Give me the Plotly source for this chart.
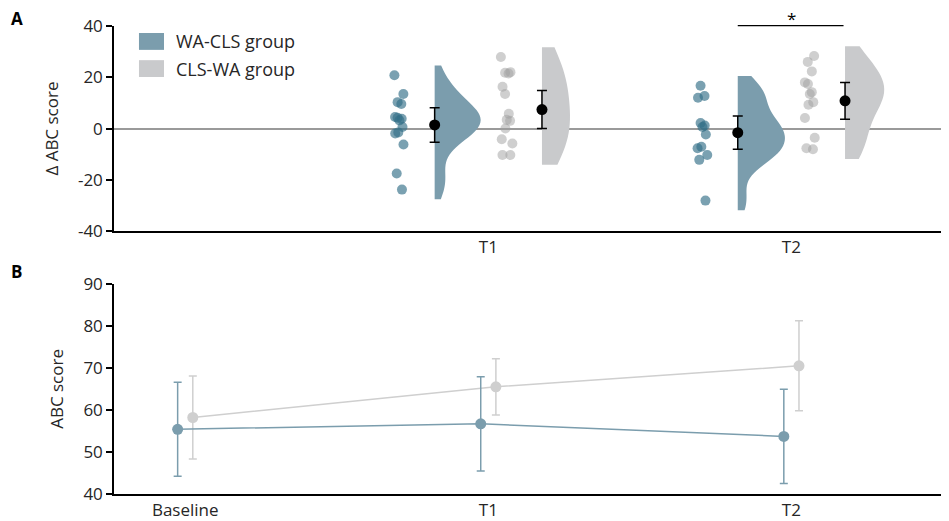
import plotly.graph_objects as go
from plotly.subplots import make_subplots

# ---------------- data ----------------
top_categories = ["T1", "T2"]
wa_cls_delta_t1 = [20.8, 13.5, 10.3, 9.6, 4.5, 4.2, 3.8, 3.2, 0.6, -1.5, -1.9, -6.2, -17.5, -23.8]
wa_cls_delta_t2 = [16.7, 12.7, 12.0, 2.2, 1.2, 0.6, -2.3, -7.1, -7.7, -10.3, -12.2, -28.1]
cls_wa_delta_t1 = [27.9, 22.0, 21.8, 21.5, 16.3, 13.5, 5.8, 3.4, 3.0, 0.0, -4.2, -5.8, -10.3, -10.3]
cls_wa_delta_t2 = [28.3, 26.0, 22.3, 18.0, 17.4, 14.2, 13.5, 10.3, 9.3, 4.1, -3.6, -7.7, -8.1]
wa_cls_delta_mean = [1.4, -1.6]
wa_cls_delta_err = [6.7, 6.5]
cls_wa_delta_mean = [7.4, 10.8]
cls_wa_delta_err = [7.4, 7.2]
delta_tick_vals = [-40, -20, 0, 20, 40]
delta_tick_text = ["-40", "-20", "0", "20", "40"]

timepoints = ["Baseline", "T1", "T2"]
wa_cls_abc = [55.4, 56.7, 53.7]
wa_cls_abc_err = [11.2, 11.2, 11.2]
cls_wa_abc = [58.2, 65.5, 70.5]
cls_wa_abc_err = [9.9, 6.7, 10.7]
abc_tick_vals = [40, 50, 60, 70, 80, 90]

# ---------------- style ----------------
BLUE = "#7b9dad"
BLUE_PT = "rgba(50,110,135,0.65)"
GRAY = "#c9cacc"
GRAY_PT = "rgba(160,160,160,0.5)"
GRAY_LINE = "#cfcfcf"
FONT = "Open Sans"
TXT = "#262626"
PX_PER_UNIT = 303.0
VIOLIN_OFF = 0.177

fig = make_subplots(rows=2, cols=1, vertical_spacing=0.0)

def half_violin(vals, pos, color, ptcolor, maxw_px, bw, jitter_px):
    bd = maxw_px / PX_PER_UNIT
    lo, hi = min(vals), max(vals)
    fig.add_trace(go.Violin(
        y=vals, x0=pos, side="positive", width=2 * bd,
        fillcolor=color, line=dict(color=color, width=0),
        bandwidth=bw, spanmode="manual", span=[lo - 3.8, hi + 3.8],
        points="all", pointpos=-(35.0 / PX_PER_UNIT) / bd,
        jitter=(jitter_px / PX_PER_UNIT) / bd,
        marker=dict(color=ptcolor, size=10, line=dict(width=0)),
        box_visible=False, meanline_visible=False, showlegend=False,
        opacity=1, hoverinfo="skip",
    ), row=1, col=1)

half_violin(wa_cls_delta_t1, 1 - VIOLIN_OFF, BLUE, BLUE_PT, 46, 6.0, 7)
half_violin(cls_wa_delta_t1, 1 + VIOLIN_OFF, GRAY, GRAY_PT, 28, 11.0, 7)
half_violin(wa_cls_delta_t2, 2 - VIOLIN_OFF, BLUE, BLUE_PT, 47, 6.0, 7)
half_violin(cls_wa_delta_t2, 2 + VIOLIN_OFF, GRAY, GRAY_PT, 39, 8.0, 7)

xpos_top = [1, 2]
fig.add_trace(go.Scatter(
    x=[p - VIOLIN_OFF for p in xpos_top], y=wa_cls_delta_mean, mode="markers",
    marker=dict(color="black", size=11),
    error_y=dict(type="data", array=wa_cls_delta_err, color="black", thickness=1.5, width=5),
    showlegend=False, hoverinfo="skip"), row=1, col=1)
fig.add_trace(go.Scatter(
    x=[p + VIOLIN_OFF for p in xpos_top], y=cls_wa_delta_mean, mode="markers",
    marker=dict(color="black", size=11),
    error_y=dict(type="data", array=cls_wa_delta_err, color="black", thickness=1.5, width=5),
    showlegend=False, hoverinfo="skip"), row=1, col=1)

# bottom panel
xpos_bot = [0, 1, 2]
OFF_B = 0.025
fig.add_trace(go.Scatter(
    x=[p + OFF_B for p in xpos_bot], y=cls_wa_abc, mode="lines+markers",
    line=dict(color=GRAY_LINE, width=1.5), marker=dict(color=GRAY_LINE, size=11),
    error_y=dict(type="data", array=cls_wa_abc_err, color=GRAY_LINE, thickness=1.5, width=4),
    showlegend=False, hoverinfo="skip"), row=2, col=1)
fig.add_trace(go.Scatter(
    x=[p - OFF_B for p in xpos_bot], y=wa_cls_abc, mode="lines+markers",
    line=dict(color=BLUE, width=1.5), marker=dict(color=BLUE, size=11),
    error_y=dict(type="data", array=wa_cls_abc_err, color=BLUE, thickness=1.5, width=4),
    showlegend=False, hoverinfo="skip"), row=2, col=1)

XR = [-0.235, 2.52]
axis_font = dict(family=FONT, size=17, color=TXT)
fig.update_xaxes(range=XR, showgrid=False, zeroline=False, showline=True,
                 linecolor="black", linewidth=1.5, ticks="", tickfont=axis_font)
fig.update_xaxes(tickvals=xpos_top, ticktext=top_categories, row=1, col=1)
fig.update_xaxes(tickvals=xpos_bot, ticktext=timepoints, row=2, col=1)
fig.update_yaxes(showgrid=False, showline=True, linecolor="black", linewidth=1.5,
                 ticks="outside", ticklen=6, tickwidth=1.5, tickcolor="black",
                 tickfont=axis_font, title_font=axis_font)
fig.update_yaxes(range=[-40, 40], tickvals=delta_tick_vals, ticktext=delta_tick_text, zeroline=True,
                 zerolinecolor="#9a9a9a", zerolinewidth=1.5,
                 title_text="Δ ABC score", row=1, col=1)
fig.update_yaxes(range=[40, 90], tickvals=abc_tick_vals, zeroline=False,
                 title_text="ABC score", row=2, col=1)

# page body has an 8px default margin: shrink the figure so the plot area lands
# where the reference puts it and nothing is cut at the right/bottom
fig.update_layout(
    width=941, height=513, margin=dict(l=106, r=0, t=18, b=25),
    plot_bgcolor="white", paper_bgcolor="white",
    font=dict(family=FONT, size=17, color=TXT),
    violinmode="overlay",
)
fig.update_layout(
    yaxis=dict(domain=[0.5617, 1.0]), yaxis2=dict(domain=[0.0, 0.449]),
)

# legend (manual)
fig.add_shape(type="rect", xref="paper", yref="paper", x0=0.0299, x1=0.0599, y0=0.949, y1=0.985,
              fillcolor=BLUE, line=dict(width=0))
fig.add_shape(type="rect", xref="paper", yref="paper", x0=0.0299, x1=0.0599, y0=0.891, y1=0.927,
              fillcolor=GRAY, line=dict(width=0))
fig.add_annotation(xref="paper", yref="paper", x=0.0719, y=0.968, text="WA-CLS group",
                   showarrow=False, xanchor="left", yanchor="middle", font=dict(family=FONT, size=18, color=TXT))
fig.add_annotation(xref="paper", yref="paper", x=0.0719, y=0.9085, text="CLS-WA group",
                   showarrow=False, xanchor="left", yanchor="middle", font=dict(family=FONT, size=18, color=TXT))

# significance bracket
fig.add_shape(type="line", xref="x", yref="paper", x0=2 - VIOLIN_OFF, x1=2 + VIOLIN_OFF - 0.005,
              y0=1.0006, y1=1.0006, line=dict(color="black", width=1.2))
fig.add_annotation(xref="x", yref="paper", x=2.0, y=1.015, text="*", showarrow=False,
                   xanchor="center", yanchor="middle", font=dict(family=FONT, size=17, color="black"))

# panel labels
fig.add_annotation(xref="paper", yref="paper", x=-0.1257, y=1.017, text="<b>A</b>", showarrow=False,
                   xanchor="left", yanchor="middle", font=dict(family=FONT, size=17, color="black"))
fig.add_annotation(xref="paper", yref="paper", x=-0.1257, y=0.4745, text="<b>B</b>", showarrow=False,
                   xanchor="left", yanchor="middle", font=dict(family=FONT, size=17, color="black"))

fig.write_html("out.html")
